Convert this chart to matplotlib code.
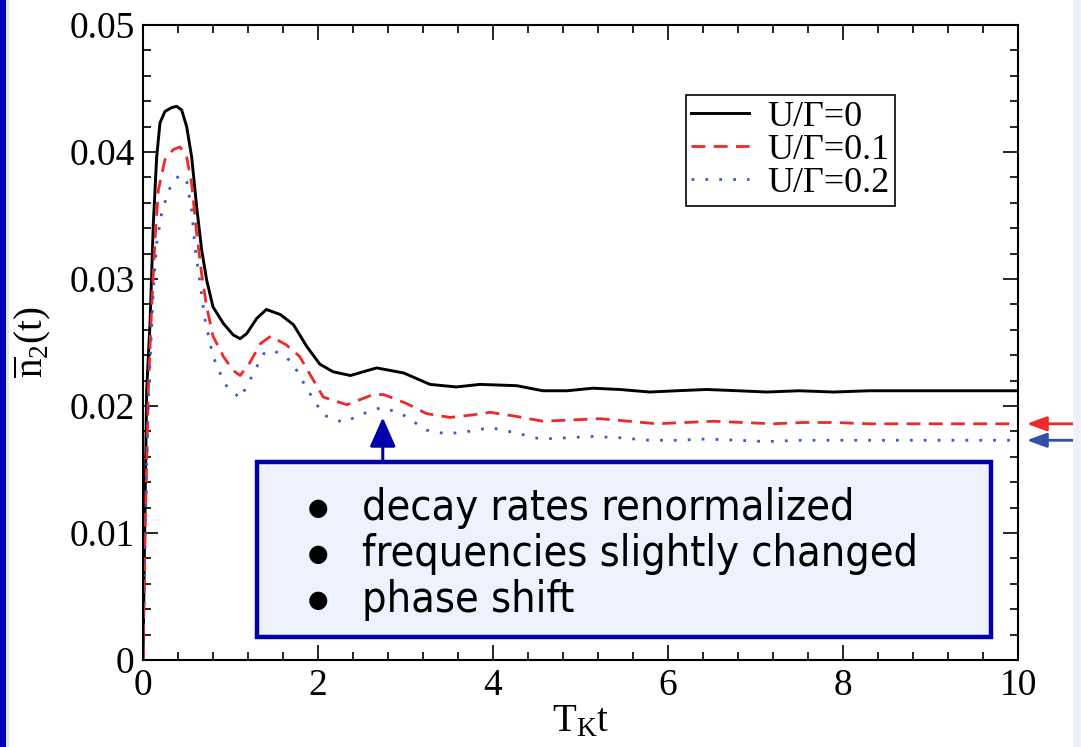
import matplotlib
matplotlib.use('Agg')
import matplotlib.pyplot as plt
from matplotlib.patches import Rectangle, FancyArrowPatch

plt.rcParams['font.family'] = ['Liberation Serif', 'DejaVu Serif']
plt.rcParams['mathtext.fontset'] = 'custom'
plt.rcParams['mathtext.rm'] = 'Liberation Serif'
plt.rcParams['mathtext.it'] = 'Liberation Serif:italic'

# values
t_u0 = [0, 0.02, 0.042, 0.08, 0.118, 0.156, 0.194, 0.251, 0.328, 0.385, 0.442, 0.499, 0.556,
        0.613, 0.67, 0.728, 0.80, 0.918, 1.03, 1.11, 1.185, 1.30, 1.41, 1.57, 1.72, 1.87, 2.02,
        2.17, 2.37, 2.67, 2.98, 3.28, 3.58, 3.85, 4.27, 4.57, 4.85, 5.14, 5.45, 5.79, 6.1, 6.44,
        6.8, 7.13, 7.5, 7.89, 8.3, 8.7, 9.1, 9.5, 10]
n_u0 = [0, 0.0105, 0.0213, 0.0265, 0.0344, 0.0396, 0.0423, 0.0432, 0.0435, 0.0436, 0.0433,
        0.0420, 0.0396, 0.0357, 0.0323, 0.0299, 0.0278, 0.0265, 0.0256, 0.0253, 0.0257, 0.0269,
        0.0276, 0.0272, 0.0264, 0.0247, 0.0233, 0.0227, 0.0224, 0.0230, 0.0226, 0.0217, 0.0215,
        0.0217, 0.0216, 0.0212, 0.0212, 0.0214, 0.0213, 0.0211, 0.0212, 0.0213, 0.0212, 0.0211,
        0.0212, 0.0211, 0.0212, 0.0212, 0.0212, 0.0212, 0.0212]

t_u1 = [0, 0.025, 0.061, 0.099, 0.137, 0.175, 0.251, 0.347, 0.423, 0.499, 0.556, 0.613, 0.67,
        0.728, 0.80, 0.918, 1.03, 1.11, 1.22, 1.34, 1.46, 1.64, 1.79, 1.95, 2.06, 2.33, 2.63,
        2.75, 3.01, 3.24, 3.51, 3.77, 3.97, 4.25, 4.57, 4.9, 5.22, 5.55, 5.87, 6.2, 6.52, 6.85,
        7.2, 7.55, 7.9, 8.3, 8.7, 9.1, 9.5, 10]
n_u1 = [0, 0.0105, 0.0213, 0.0278, 0.0331, 0.0370, 0.0394, 0.0402, 0.0404, 0.0396, 0.0375,
        0.0336, 0.0304, 0.0278, 0.0255, 0.0239, 0.0228, 0.0224, 0.0234, 0.0249, 0.0255, 0.0248,
        0.0239, 0.0220, 0.0207, 0.0201, 0.0209, 0.0209, 0.0202, 0.0194, 0.0191, 0.0193, 0.0195,
        0.0192, 0.0188, 0.0189, 0.0190, 0.0188, 0.0186, 0.0187, 0.0188, 0.0187, 0.0186, 0.0187,
        0.0187, 0.0186, 0.0186, 0.0186, 0.0186, 0.0186]

t_u2 = [0, 0.025, 0.061, 0.118, 0.156, 0.213, 0.289, 0.347, 0.423, 0.499, 0.556, 0.594, 0.651,
        0.709, 0.80, 0.937, 1.11, 1.22, 1.375, 1.49, 1.70, 1.87, 2.06, 2.29, 2.52, 2.73, 2.95,
        3.24, 3.47, 3.72, 3.97, 4.25, 4.54, 4.85, 5.14, 5.45, 5.79, 6.1, 6.44, 6.8, 7.13, 7.5,
        7.9, 8.3, 8.7, 9.1, 9.5, 10]
n_u2 = [0, 0.0100, 0.0205, 0.0291, 0.0328, 0.0352, 0.0369, 0.0377, 0.0382, 0.0377, 0.0354,
        0.0325, 0.0297, 0.0268, 0.0239, 0.0217, 0.0206, 0.0220, 0.0241, 0.0244, 0.0235, 0.0214,
        0.0193, 0.0187, 0.0194, 0.0199, 0.0194, 0.0181, 0.0178, 0.0180, 0.0183, 0.0179, 0.0174,
        0.0175, 0.0176, 0.0175, 0.0173, 0.0173, 0.0174, 0.0173, 0.0172, 0.0173, 0.0173, 0.0173,
        0.0173, 0.0173, 0.0173, 0.0173]

labels = ['U/Γ=0', 'U/Γ=0.1', 'U/Γ=0.2']
xticks = [0, 2, 4, 6, 8, 10]
yticks = [0, 0.01, 0.02, 0.03, 0.04, 0.05]
ytick_labels = ['0', '0.01', '0.02', '0.03', '0.04', '0.05']
bullets = ['decay rates renormalized', 'frequencies slightly changed', 'phase shift']

fig = plt.figure(figsize=(10.81, 7.47), dpi=100)
ax = fig.add_axes([0.1323, 0.1165, 0.8094, 0.85])

ax.plot(t_u0, n_u0, color='black', lw=2.1, label=labels[0])
ax.plot(t_u1, n_u1, color='#f02828', lw=2.0, dashes=(5, 3), label=labels[1])
ax.plot(t_u2, n_u2, color='#3c5cc0', lw=2.0, dashes=(1, 4), label=labels[2])

ax.set_xlim(0, 10)
ax.set_ylim(0, 0.05)
ax.set_xticks(xticks)
ax.set_xticklabels([str(v) for v in xticks])
ax.set_yticks(yticks)
ax.set_yticklabels(ytick_labels)
ax.set_xticks([i * 0.4 for i in range(26)], minor=True)
ax.set_yticks([i * 0.002 for i in range(26)], minor=True)
ax.tick_params(which='both', direction='in', top=True, right=True, labelsize=27, width=1.2)
ax.tick_params(which='major', length=11, pad=6)
ax.tick_params(which='minor', length=6)
for s in ax.spines.values():
    s.set_linewidth(1.5)

ax.set_xlabel(r'$\mathrm{T}_\mathrm{K}\mathrm{t}$', fontsize=28, labelpad=0)
ax.set_ylabel(r'$\overline{\mathrm{n}}_2\mathrm{(t)}$', fontsize=28, labelpad=12)

leg = ax.legend(loc='upper right', bbox_to_anchor=(0.859, 0.89), borderaxespad=0,
                fontsize=26, fancybox=False, framealpha=1, edgecolor='black',
                handlelength=1.6, labelspacing=0.0, borderpad=0.15, handletextpad=0.5)
leg.get_frame().set_linewidth(1.2)

# info box
box = Rectangle((0.1303, 0.0362), 0.8387, 0.2756, transform=ax.transAxes,
                facecolor='#eef2fc', edgecolor='#0000aa', lw=3.2, zorder=5)
ax.add_patch(box)
for i, txt in enumerate(bullets):
    yy = 0.239 - i * 0.0725
    ax.text(0.2, yy, '●', transform=ax.transAxes, fontsize=17, family='DejaVu Sans',
            ha='center', va='center', zorder=6)
    ax.text(0.25, yy, txt, transform=ax.transAxes, fontsize=31, family='DejaVu Sans',
            stretch='condensed', ha='left', va='center', zorder=6)

arr = FancyArrowPatch((2.74, 0.0156), (2.74, 0.0191), arrowstyle='-|>,head_length=0.9,head_width=0.4',
                      mutation_scale=20, color='#0000aa', lw=2.2, zorder=6, shrinkA=0, shrinkB=0)
ax.add_patch(arr)

# arrows marking the asymptotes
ax.annotate('', xy=(10.1, n_u1[-1]), xytext=(10.63, n_u1[-1]), annotation_clip=False,
            arrowprops=dict(arrowstyle='-|>,head_length=0.6,head_width=0.22', color='#ee2a2a',
                            lw=2, shrinkA=0, shrinkB=0, mutation_scale=20))
ax.annotate('', xy=(10.1, n_u2[-1]), xytext=(10.63, n_u2[-1]), annotation_clip=False,
            arrowprops=dict(arrowstyle='-|>,head_length=0.6,head_width=0.22', color='#3050a8',
                            lw=2, shrinkA=0, shrinkB=0, mutation_scale=20))

# slide decoration at the edges
fig.patches.append(Rectangle((0, 0), 6 / 1081, 1, transform=fig.transFigure,
                             facecolor='#0000b0', edgecolor='none'))
fig.patches.append(Rectangle((6 / 1081, 0), 3 / 1081, 1, transform=fig.transFigure,
                             facecolor='#dfe4f8', edgecolor='none'))
fig.patches.append(Rectangle((1073 / 1081, 0), 8 / 1081, 1, transform=fig.transFigure,
                             facecolor='#eef2fb', edgecolor='none'))

fig.savefig('out.png', dpi=100)
